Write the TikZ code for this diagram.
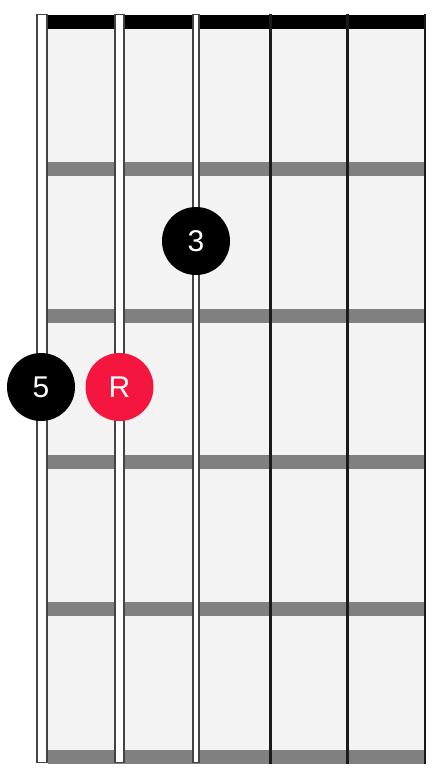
\documentclass[tikz,border=0pt]{standalone}
\usepackage{fontspec}
\setmainfont{Liberation Sans}
\definecolor{boardbg}{HTML}{F3F3F3}
\definecolor{fretgrey}{HTML}{808080}
\definecolor{strborder}{HTML}{444444}
\definecolor{rootred}{HTML}{F5163F}
\definecolor{thinstr}{HTML}{1A1A1A}
\tikzset{
  fretbar/.style={fill=fretgrey, draw=none},
  woundstr/.style={fill=white, draw=strborder, line width=1.8pt},
  plainstr/.style={draw=thinstr, line width=2.5pt},
  dot/.style={circle, minimum size=68pt, inner sep=0pt, text=white, font=\fontsize{30}{30}\selectfont},
  blackdot/.style={dot, fill=black},
  reddot/.style={dot, fill=rootred}
}
\begin{document}
\begin{tikzpicture}[x=1pt,y=-1pt]
\useasboundingbox (0,0) rectangle (444,780);
% fretboard
\fill[boardbg] (48,29) rectangle (425,750);
% nut
\fill[black] (42,14.5) rectangle (426,29);
% frets
\foreach \y in {162,308.5,455,602,750}
  \fill[fretbar] (48,\y) rectangle (425,\y+14);
% plain strings
\foreach \x in {270.5,347.5,425}
  \draw[plainstr] (\x,14) -- (\x,763.5);
% wound strings
\draw[woundstr] (37.3,14.5) rectangle (47.3,762.5);
\draw[woundstr] (115.3,14.5) rectangle (123.7,762.5);
\draw[woundstr] (193.3,14.5) rectangle (199.3,762.5);
% finger dots
\node[blackdot] (five) at (41,387) {5};
\node[reddot] (root) at (119.5,387) {R};
\node[blackdot] (third) at (196,241) {3};
\end{tikzpicture}
\end{document}
